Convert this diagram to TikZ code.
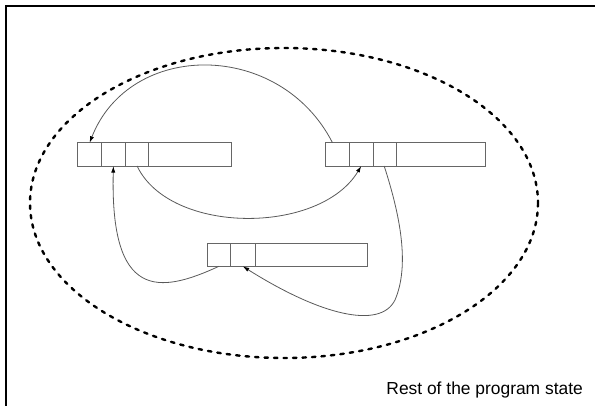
\documentclass[tikz,border=0pt]{standalone}
\usepackage{fontspec}
\setmainfont{Liberation Sans}
\usetikzlibrary{arrows.meta}
\begin{document}
\begin{tikzpicture}[x=1pt,y=-1pt,
  cell/.style={draw=black!60, line width=0.8pt, minimum height=23.3pt, inner sep=0pt, outer sep=0pt},
  ptr/.style={draw=black!65, line width=0.8pt, -{Latex[length=6.5pt,width=4.2pt,color=black]}},
  region/.style={draw=black, line width=2.4pt, dash pattern=on 3.5pt off 6pt, line cap=round},
  frame/.style={draw=black, line width=2pt}]
\useasboundingbox (0,0) rectangle (595,406);
% frame
\draw[frame] (6,410) -- (6,6) -- (600,6);
% region
\draw[region] (284,203) ellipse [x radius=254, y radius=155];
% box A
\node[cell, minimum width=23.6pt] (a1) at (89.6,154.4) {};
\node[cell, minimum width=24pt] (a2) at (113.4,154.4) {};
\node[cell, minimum width=23.4pt] (a3) at (137.1,154.4) {};
\node[cell, minimum width=83pt] (a4) at (190.3,154.4) {};
% box B
\node[cell, minimum width=23.6pt] (b1) at (337.5,154.4) {};
\node[cell, minimum width=23.7pt] (b2) at (361.2,154.4) {};
\node[cell, minimum width=23.3pt] (b3) at (384.7,154.4) {};
\node[cell, minimum width=89pt] (b4) at (440.8,154.4) {};
% box C
\node[cell, minimum width=23pt] (c1) at (218.8,254.7) {};
\node[cell, minimum width=25pt] (c2) at (242.8,254.7) {};
\node[cell, minimum width=112pt] (c3) at (311.3,254.7) {};
% pointers
\draw[ptr] ([xshift=-5pt]b1.north) .. controls (280,40) and (130,40) .. (a1.north);
\draw[ptr] (a3.south) .. controls (170,235) and (320,235) .. (b2.south);
\draw[ptr] (c1.south) .. controls (159,294) and (110,300) .. (a2.south);
\draw[ptr] ([xshift=-0.5pt]b3.south) .. controls (400,215) and (410,265) .. (395,300)
  .. controls (380,330) and (320,315) .. (c2.south);
% label
\node[anchor=base east, inner sep=0pt, font=\fontsize{17.4}{20}\selectfont] (lbl) at (583,394) {Rest of the program state};
\end{tikzpicture}
\end{document}
